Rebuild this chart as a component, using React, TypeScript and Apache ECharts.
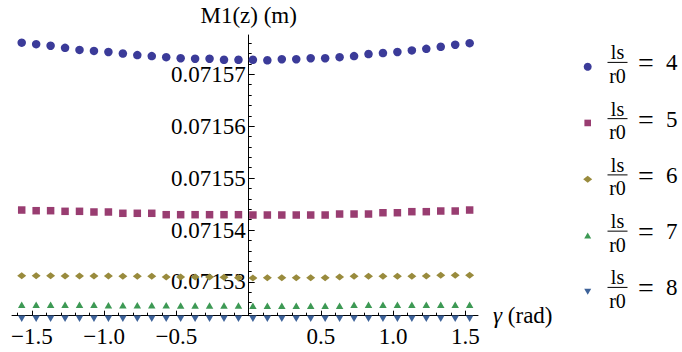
import React, { useEffect, useRef } from 'react';
import * as echarts from 'echarts';

// gamma values (rad)
const gamma = [
  -1.5708, -1.4708, -1.3708, -1.2708, -1.1708, -1.0708, -0.9708, -0.8708,
  -0.7708, -0.6708, -0.5708, -0.4708, -0.3708, -0.2708, -0.1708, -0.0708,
  0.0292, 0.1292, 0.2292, 0.3292, 0.4292, 0.5292, 0.6292, 0.7292,
  0.8292, 0.9292, 1.0292, 1.1292, 1.2292, 1.3292, 1.4292, 1.5292,
];

const m1Ls4 = [
  0.0715761, 0.0715758, 0.0715755, 0.0715751, 0.0715747, 0.0715745, 0.0715743, 0.071574,
  0.0715737, 0.0715735, 0.0715733, 0.0715731, 0.071573, 0.071573, 0.0715728, 0.0715728,
  0.0715728, 0.0715727, 0.0715729, 0.0715729, 0.0715731, 0.0715731, 0.0715733, 0.0715735,
  0.0715739, 0.0715741, 0.0715743, 0.0715746, 0.0715749, 0.0715753, 0.0715757, 0.071576,
];
const m1Ls5 = [
  0.07154385, 0.07154372, 0.07154372, 0.0715436, 0.0715436, 0.07154347, 0.07154347, 0.07154322,
  0.07154322, 0.07154322, 0.07154295, 0.07154295, 0.07154295, 0.07154295, 0.07154295, 0.07154295,
  0.07154289, 0.07154289, 0.07154289, 0.07154289, 0.07154289, 0.07154289, 0.07154308, 0.07154308,
  0.07154308, 0.07154333, 0.07154333, 0.07154353, 0.07154353, 0.07154366, 0.07154366, 0.07154385,
];
const m1Ls6 = [
  0.07153119, 0.07153119, 0.07153119, 0.07153114, 0.07153114, 0.07153114, 0.07153114, 0.07153108,
  0.07153108, 0.07153108, 0.07153094, 0.07153094, 0.07153094, 0.07153094, 0.07153088, 0.07153081,
  0.07153075, 0.07153081, 0.07153081, 0.07153081, 0.07153081, 0.07153081, 0.07153094, 0.07153108,
  0.07153108, 0.07153108, 0.07153108, 0.07153108, 0.07153114, 0.07153127, 0.07153127, 0.07153127,
];
const m1Ls7 = [
  0.07152558, 0.07152558, 0.07152558, 0.07152558, 0.07152558, 0.07152558, 0.07152552, 0.07152552,
  0.07152552, 0.07152552, 0.07152552, 0.07152545, 0.07152545, 0.07152545, 0.07152545, 0.07152545,
  0.0715254, 0.0715254, 0.0715254, 0.0715254, 0.0715254, 0.0715254, 0.0715254, 0.0715256,
  0.0715256, 0.0715256, 0.0715256, 0.0715256, 0.0715256, 0.0715256, 0.0715256, 0.0715256,
];
const m1Ls8 = [
  0.0715229, 0.0715229, 0.0715229, 0.0715229, 0.0715229, 0.0715229, 0.0715229, 0.0715229,
  0.0715229, 0.0715229, 0.0715229, 0.0715229, 0.0715229, 0.0715229, 0.0715229, 0.0715229,
  0.0715229, 0.0715229, 0.0715229, 0.0715229, 0.0715229, 0.0715229, 0.0715229, 0.0715229,
  0.0715229, 0.0715229, 0.0715229, 0.0715229, 0.0715229, 0.0715229, 0.0715229, 0.0715229,
];

const ratioValues = ['4', '5', '6', '7', '8'];
const seriesData = [m1Ls4, m1Ls5, m1Ls6, m1Ls7, m1Ls8];
const seriesColors = ['#3b3b99', '#993d71', '#998b3d', '#3d9954', '#3d6299'];

const xTickLabels = [-1.5, -1.0, -0.5, 0.5, 1.0, 1.5];
const yTickLabels = [0.07153, 0.07154, 0.07155, 0.07156, 0.07157];

const X_MIN = -1.638;
const X_MAX = 1.587;
const Y_MIN = 0.07152349;
const Y_MAX = 0.07157757;

const xMinorTicks: number[] = [];
for (let i = -16; i <= 15; i++) xMinorTicks.push(Number((i * 0.1).toFixed(2)));
const yMinorTicks: number[] = [];
for (let i = 0; i <= 26; i++) yMinorTicks.push(Number((0.071524 + i * 0.000002).toFixed(7)));

const FONT = 'serif';

const GRID_LEFT = 12;
const GRID_RIGHT_PX = 478;
const Y_AXIS_PX = GRID_LEFT + ((0 - X_MIN) / (X_MAX - X_MIN)) * (GRID_RIGHT_PX - GRID_LEFT);

const symbols: any[] = [
  { symbol: 'circle', size: 8.5 },
  { symbol: 'rect', size: 7.5 },
  { symbol: 'diamond', size: [9, 7] },
  { symbol: 'triangle', size: [7.5, 6.5] },
  { symbol: 'path://M0,0 L10,0 L5,8.6 Z', size: [7.5, 6.5] },
];

function legendGraphics() {
  const els: any[] = [];
  const mx = 587.7;
  ratioValues.forEach((r, i) => {
    const cy = 66.7 + 56.25 * i;
    const ay = cy - 4.3;
    const color = seriesColors[i];
    if (i === 0) {
      els.push({ type: 'circle', shape: { cx: mx, cy, r: 4 }, style: { fill: color } });
    } else if (i === 1) {
      els.push({ type: 'rect', shape: { x: mx - 3.3, y: cy - 3.3, width: 6.6, height: 6.6 }, style: { fill: color } });
    } else if (i === 2) {
      els.push({ type: 'polygon', shape: { points: [[mx - 4.5, cy], [mx, cy - 3.5], [mx + 4.5, cy], [mx, cy + 3.5]] }, style: { fill: color } });
    } else if (i === 3) {
      els.push({ type: 'polygon', shape: { points: [[mx - 3.5, cy + 3], [mx, cy - 3], [mx + 3.5, cy + 3]] }, style: { fill: color } });
    } else {
      els.push({ type: 'polygon', shape: { points: [[mx - 3.5, cy - 3], [mx, cy + 3], [mx + 3.5, cy - 3]] }, style: { fill: color } });
    }
    els.push({ type: 'text', x: 617.5, y: ay - 10, style: { text: 'ls', fill: '#000', font: `20px ${FONT}`, align: 'center', verticalAlign: 'middle' } });
    els.push({ type: 'line', shape: { x1: 607.5, y1: ay, x2: 627.5, y2: ay }, style: { stroke: '#000', lineWidth: 1 } });
    els.push({ type: 'text', x: 617.5, y: ay + 13.5, style: { text: 'r0', fill: '#000', font: `20px ${FONT}`, align: 'center', verticalAlign: 'middle' } });
    els.push({ type: 'text', x: 638, y: ay + 0.5, style: { text: '=', fill: '#000', font: `28px ${FONT}`, align: 'left', verticalAlign: 'middle' } });
    els.push({ type: 'text', x: 666, y: ay + 0.5, style: { text: r, fill: '#000', font: `23px ${FONT}`, align: 'left', verticalAlign: 'middle' } });
  });
  return els;
}

export default function App() {
  const ref = useRef<HTMLDivElement>(null);
  useEffect(() => {
    if (!ref.current) return;
    const chart = echarts.init(ref.current, null, { renderer: 'svg' });
    const fmtX = (v: number) => (v < 0 ? '\u2212' + Math.abs(v).toFixed(1) : v.toFixed(1));
    const fmtY = (v: number) => v.toFixed(5);
    const yOffset = -(Y_AXIS_PX - GRID_LEFT);
    const option: any = {
      animation: false,
      backgroundColor: '#ffffff',
      textStyle: { fontFamily: FONT },
      grid: { left: GRID_LEFT, right: 682 - GRID_RIGHT_PX, top: 35, bottom: 36.3, containLabel: false, outerBoundsMode: 'none' },
      xAxis: [
        {
          type: 'value', min: X_MIN, max: X_MAX, position: 'bottom',
          axisLine: { show: true, onZero: false, lineStyle: { color: '#000', width: 1 } },
          axisTick: { show: true, inside: true, length: 5, customValues: xTickLabels, lineStyle: { color: '#000' } },
          axisLabel: { show: true, customValues: xTickLabels, formatter: fmtX, fontFamily: FONT, fontSize: 23, color: '#000', margin: 9 },
          splitLine: { show: false },
          name: '{i|γ} (rad)', nameLocation: 'end', nameGap: 15,
          nameTextStyle: { fontFamily: FONT, fontSize: 23, color: '#000', verticalAlign: 'middle', rich: { i: { fontStyle: 'italic', fontFamily: FONT, fontSize: 23 } } },
        },
        {
          type: 'value', min: X_MIN, max: X_MAX, position: 'bottom',
          axisLine: { show: false, onZero: false },
          axisTick: { show: true, inside: true, length: 3, customValues: xMinorTicks, lineStyle: { color: '#000' } },
          axisLabel: { show: false },
          splitLine: { show: false },
        },
      ],
      yAxis: [
        {
          type: 'value', min: Y_MIN, max: Y_MAX, position: 'left', offset: yOffset,
          axisLine: { show: true, onZero: false, lineStyle: { color: '#000', width: 1 } },
          axisTick: { show: true, inside: true, length: 6, customValues: yTickLabels, lineStyle: { color: '#000' } },
          axisLabel: { show: true, customValues: yTickLabels, formatter: fmtY, fontFamily: FONT, fontSize: 23, color: '#000', margin: 3 },
          splitLine: { show: false },
          name: 'M1(z) (m)', nameLocation: 'end', nameGap: 8,
          nameTextStyle: { fontFamily: FONT, fontSize: 23, color: '#000', align: 'center', verticalAlign: 'bottom' },
        },
        {
          type: 'value', min: Y_MIN, max: Y_MAX, position: 'left', offset: yOffset,
          axisLine: { show: false, onZero: false },
          axisTick: { show: true, inside: true, length: 3, customValues: yMinorTicks, lineStyle: { color: '#000' } },
          axisLabel: { show: false },
          splitLine: { show: false },
        },
      ],
      series: seriesData.map((vals, i) => ({
        type: 'scatter',
        name: `ls/r0 = ${ratioValues[i]}`,
        xAxisIndex: 0,
        yAxisIndex: 0,
        clip: false,
        symbol: symbols[i].symbol,
        symbolSize: symbols[i].size,
        itemStyle: { color: seriesColors[i], opacity: 1 },
        data: gamma.map((g, k) => [g, vals[k]]),
      })),
      graphic: legendGraphics(),
    };
    chart.setOption(option);
    return () => chart.dispose();
  }, []);
  return <div ref={ref} style={{ position: 'fixed', left: 0, top: 0, width: 682, height: 352 }} />;
}
